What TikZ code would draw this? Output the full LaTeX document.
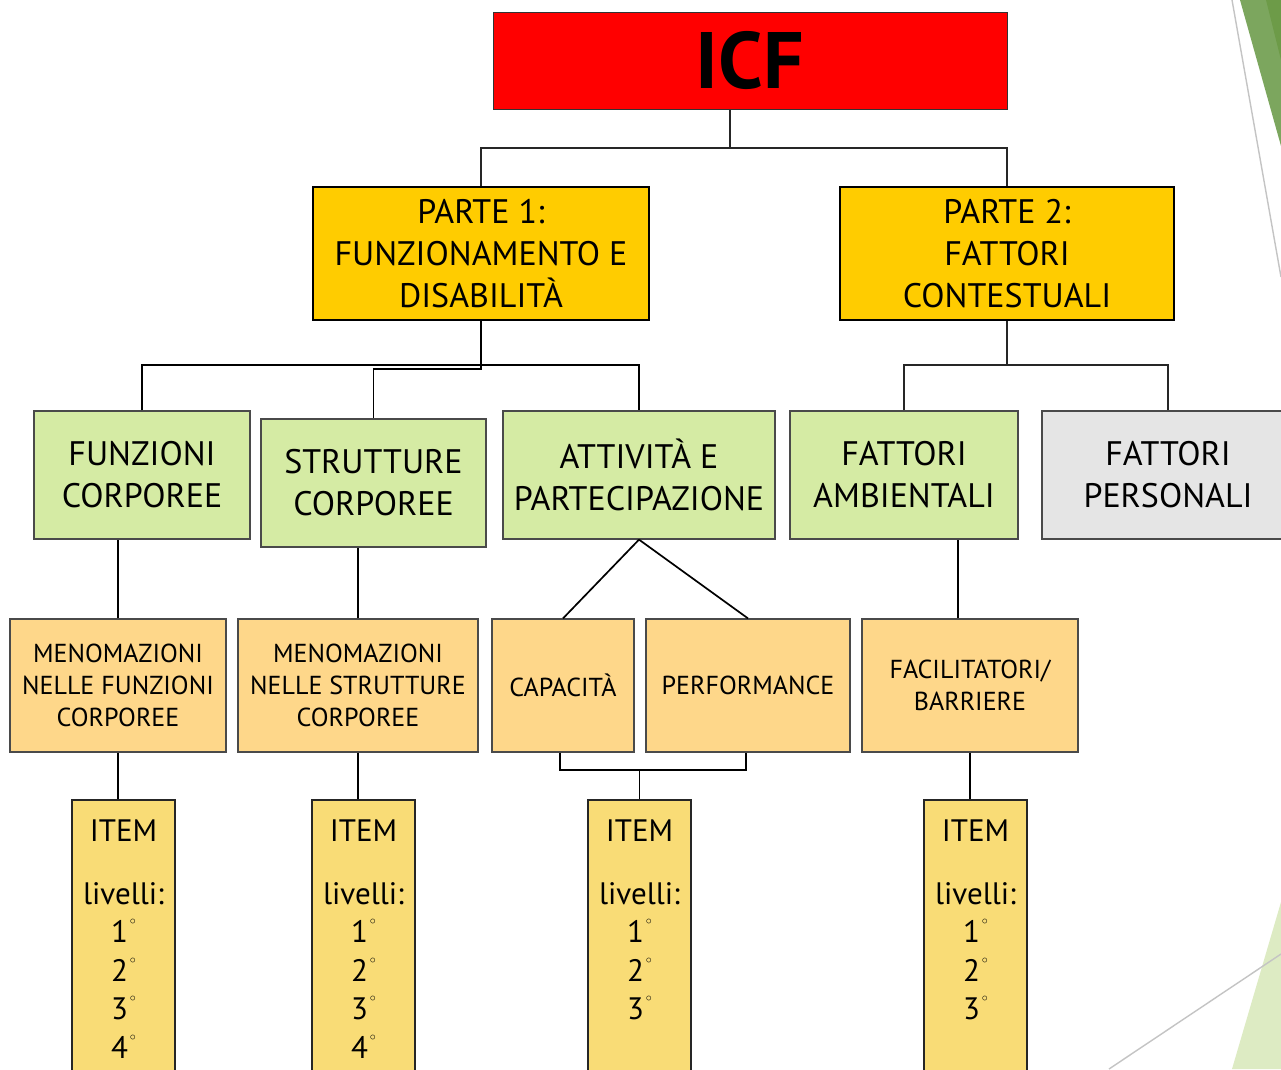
\documentclass[tikz,border=0pt]{standalone}
\usepackage{fontspec}
\setmainfont{PT Sans}
\usetikzlibrary{calc}
\definecolor{cRed}{HTML}{FF0000}
\definecolor{cGold}{HTML}{FFCC00}
\definecolor{cGreen}{HTML}{D5EBA4}
\definecolor{cGrey}{HTML}{E5E5E5}
\definecolor{cOrange}{HTML}{FED78A}
\definecolor{cItem}{HTML}{F9DC76}
\definecolor{cDecoDark}{HTML}{6D9B48}
\definecolor{cDecoMid}{HTML}{7CA65E}
\definecolor{cDecoLight}{HTML}{DDEBC3}
\definecolor{cDecoLine}{HTML}{C4C4C4}
\definecolor{cBorder}{HTML}{4A4A4A}
\newcommand{\dg}{\kern2pt\raisebox{18pt}{\fontsize{13}{13}\selectfont$\circ$}}
\tikzset{
  conn/.style={draw=black, line width=1.7pt},
  tconn/.style={draw=black!85, line width=1.1pt},
  basebox/.style={inner sep=0pt, align=center, line width=1.2pt, draw=cBorder},
  icfbox/.style={basebox, fill=cRed, draw=black!80, line width=1pt, font=\bfseries\fontsize{80}{90}\selectfont},
  partbox/.style={basebox, fill=cGold, draw=black, line width=2.6pt, font=\fontsize{34}{42}\selectfont},
  greenbox/.style={basebox, fill=cGreen, font=\fontsize{34}{42}\selectfont},
  greybox/.style={basebox, fill=cGrey, font=\fontsize{34}{42}\selectfont},
  orangebox/.style={basebox, fill=cOrange, font=\fontsize{26}{32}\selectfont},
  itembox/.style={basebox, fill=cItem, draw=black!85, minimum width=103pt, minimum height=280pt},
  itemtext/.style={inner sep=0pt, align=center, font=\fontsize{31}{38.5}\selectfont, anchor=north}
}
\begin{document}
\begin{tikzpicture}[x=1pt, y=-1pt]
\useasboundingbox (0,0) rectangle (1281,1069);
\clip (0,0) rectangle (1281,1069);
\fill[white] (0,0) rectangle (1281,1069);
% decorations
\fill[cDecoMid] (1240,0) -- (1281,0) -- (1281,146) -- cycle;
\fill[cDecoDark] (1266,0) -- (1281,0) -- (1281,60) -- cycle;
\draw[cDecoLine, line width=1.4pt] (1232,0) -- (1281,277);
\fill[cDecoLight] (1281,902) -- (1232,1069) -- (1281,1069) -- cycle;
\draw[cDecoLine, line width=1.4pt] (1109,1069) -- (1281,954);
% helper rows
\coordinate (r1) at (0,148);
\coordinate (r2) at (0,365);
\coordinate (r2b) at (0,369);
\coordinate (r3) at (0,770);
% level 1
\node[icfbox, minimum width=514pt, minimum height=97pt] (icf) at (750,60.5) {ICF};
% level 2
\node[partbox, minimum width=336pt, minimum height=133pt] (p1) at (481,253.5) {PARTE 1:\\FUNZIONAMENTO E\\DISABILITÀ};
\node[partbox, minimum width=334pt, minimum height=133pt] (p2) at (1007,253.5) {PARTE 2:\\FATTORI\\CONTESTUALI};
% level 3
\node[greenbox, minimum width=216pt, minimum height=128pt] (fc) at (142,475) {FUNZIONI\\CORPOREE};
\node[greenbox, minimum width=225pt, minimum height=128pt] (ss) at (373.5,483) {STRUTTURE\\CORPOREE};
\node[greenbox, minimum width=272pt, minimum height=128pt] (ap) at (639,475) {ATTIVITÀ E\\PARTECIPAZIONE};
\node[greenbox, minimum width=228pt, minimum height=128pt] (fa) at (904,475) {FATTORI\\AMBIENTALI};
\node[greybox, minimum width=252pt, minimum height=128pt] (fp) at (1168,475) {FATTORI\\PERSONALI};
% level 4
\node[orangebox, minimum width=216pt, minimum height=133pt] (m1) at (118,685.5) {MENOMAZIONI\\NELLE FUNZIONI\\CORPOREE};
\node[orangebox, minimum width=240pt, minimum height=133pt] (m2) at (358,685.5) {MENOMAZIONI\\NELLE STRUTTURE\\CORPOREE};
\node[orangebox, minimum width=142pt, minimum height=133pt] (cap) at (563,685.5) {CAPACITÀ};
\node[orangebox, minimum width=204pt, minimum height=133pt] (perf) at (748,685.5) {PERFORMANCE};
\node[orangebox, minimum width=216pt, minimum height=133pt] (fb) at (970,685.5) {FACILITATORI/\\BARRIERE};
% level 5
\node[itembox] (it1) at (123.5,940) {};
\node[itembox] (it2) at (363.5,940) {};
\node[itembox] (it3) at (639.5,940) {};
\node[itembox] (it4) at (975.5,940) {};
\node[itemtext] (it1t) at ([yshift=-20pt]it1.north) {ITEM\\[24.5pt]livelli:\\1\dg\\2\dg\\3\dg\\4\dg};
\node[itemtext] (it2t) at ([yshift=-20pt]it2.north) {ITEM\\[24.5pt]livelli:\\1\dg\\2\dg\\3\dg\\4\dg};
\node[itemtext] (it3t) at ([yshift=-20pt]it3.north) {ITEM\\[24.5pt]livelli:\\1\dg\\2\dg\\3\dg};
\node[itemtext] (it4t) at ([yshift=-20pt]it4.north) {ITEM\\[24.5pt]livelli:\\1\dg\\2\dg\\3\dg};
% connectors level 1 -> 2
\draw[tconn] ([xshift=-20pt]icf.south) -- ([xshift=-20pt]icf.south |- r1);
\draw[tconn] (p1.north) |- ([xshift=-20pt]icf.south |- r1) -| (p2.north);
% level 2 -> 3
\draw[conn] (p1.south) -- (p1.south |- r2b) -| (ss.north);
\draw[conn] (fc.north) |- (p1.south |- r2) -| (ap.north);
\draw[tconn] (p2.south) -- (p2.south |- r2);
\draw[tconn] (fa.north) |- (p2.south |- r2) -| (fp.north);
% level 3 -> 4
\draw[conn] (m1.north) -- (m1.north |- fc.south);
\draw[conn] (m2.north) -- (m2.north |- ss.south);
\draw[conn] (ap.south) -- (cap.north);
\draw[conn] (ap.south) -- (perf.north);
\draw[conn] ([xshift=-12pt]fb.north) -- ([xshift=-12pt]fb.north |- fa.south);
% level 4 -> 5
\draw[conn] (m1.south) -- (m1.south |- it1.north);
\draw[conn] (m2.south) -- (m2.south |- it2.north);
\draw[conn] ([xshift=-3pt]cap.south) |- ([xshift=-2pt]perf.south |- r3) -- ([xshift=-2pt]perf.south);
\draw[conn] (it3.north) -- (it3.north |- r3);
\draw[conn] (fb.south) -- (fb.south |- it4.north);
\end{tikzpicture}
\end{document}
